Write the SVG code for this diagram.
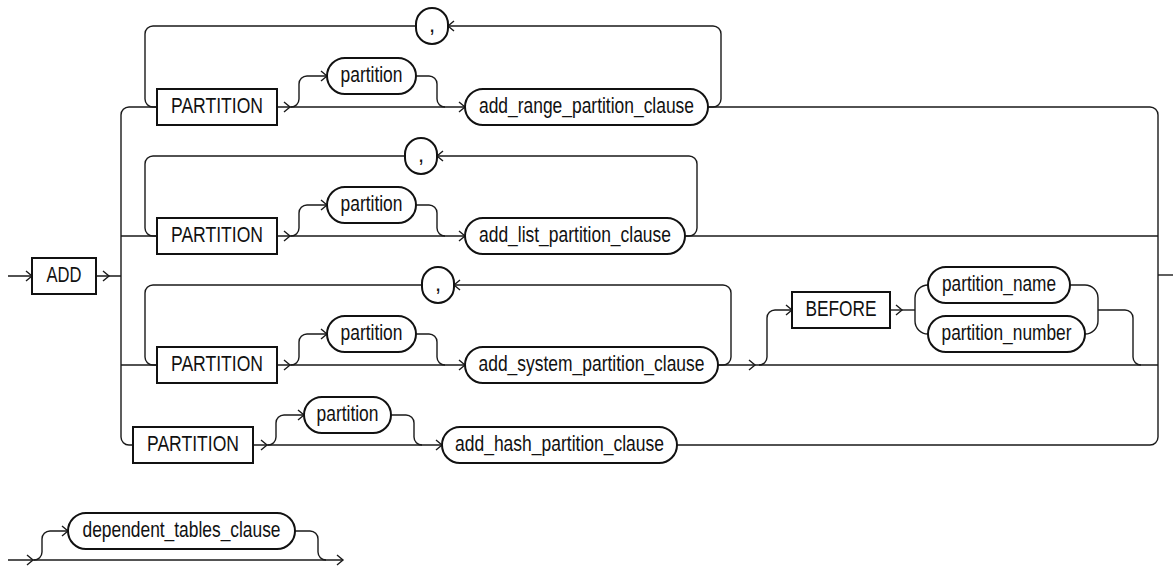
<svg xmlns="http://www.w3.org/2000/svg" xmlns:xlink="http://www.w3.org/1999/xlink" width="1173" height="569" viewBox="0 0 1173 569">
<style>
.ln{fill:none;stroke:#1a1a1a;stroke-width:1.4}
.bx{fill:#fff;stroke:#111;stroke-width:2}
.t{font-family:"Liberation Sans",Arial,sans-serif;font-size:22px;fill:#111;text-anchor:middle}
</style>
<defs>
<path id="ar" d="M-6,-5 L0,0 L-6,5" fill="none" stroke="#1a1a1a" stroke-width="1.4"/>
<path id="al" d="M6,-5 L0,0 L6,5" fill="none" stroke="#1a1a1a" stroke-width="1.4"/>
</defs>
<rect width="1173" height="569" fill="#fff"/>
<g id="connectors">
<path class="ln" d="M8,276 L32,276 M96,276 L121,276"/>
<path class="ln" d="M129,107 A8 8 0 0 0 121,115 L121,437 A8 8 0 0 0 129,445 L133,445"/>
<!-- row 1 -->
<path class="ln" d="M129,107 L157,107 M277,107 L465,107"/>
<path class="ln" d="M416,26 L153,26 A8 8 0 0 0 145,34 L145,99 A8 8 0 0 0 153,107 L157,107"/>
<path class="ln" d="M708,107 L713,107 A8 8 0 0 0 721,99 L721,34 A8 8 0 0 0 713,26 L448,26"/>
<path class="ln" d="M291,107 A8 8 0 0 0 299,99 L299,84 A8 8 0 0 1 307,76 L327,76"/>
<path class="ln" d="M416,76 L429,76 A8 8 0 0 1 437,84 L437,99 A8 8 0 0 0 445,107"/>
<path class="ln" d="M708,107 L1150,107 A8 8 0 0 1 1158,115 L1158,437 A8 8 0 0 1 1150,445 L677,445"/>
<path class="ln" d="M1158,275 L1173,275"/>
<!-- row 2 -->
<path class="ln" d="M121,236 L157,236 M277,236 L465,236"/>
<path class="ln" d="M405,156 L153,156 A8 8 0 0 0 145,164 L145,228 A8 8 0 0 0 153,236 L157,236"/>
<path class="ln" d="M685,236 L689,236 A8 8 0 0 0 697,228 L697,164 A8 8 0 0 0 689,156 L437,156"/>
<path class="ln" d="M291,236 A8 8 0 0 0 299,228 L299,213 A8 8 0 0 1 307,205 L327,205"/>
<path class="ln" d="M416,205 L429,205 A8 8 0 0 1 437,213 L437,228 A8 8 0 0 0 445,236"/>
<path class="ln" d="M685,236 L1158,236"/>
<!-- row 3 -->
<path class="ln" d="M121,365 L157,365 M277,365 L465,365"/>
<path class="ln" d="M422,285 L153,285 A8 8 0 0 0 145,293 L145,357 A8 8 0 0 0 153,365 L157,365"/>
<path class="ln" d="M718,365 L723,365 A8 8 0 0 0 731,357 L731,293 A8 8 0 0 0 723,285 L454,285"/>
<path class="ln" d="M291,365 A8 8 0 0 0 299,357 L299,342 A8 8 0 0 1 307,334 L327,334"/>
<path class="ln" d="M416,334 L429,334 A8 8 0 0 1 437,342 L437,357 A8 8 0 0 0 445,365"/>
<path class="ln" d="M718,365 L1158,365"/>
<path class="ln" d="M759,365 A8 8 0 0 0 767,357 L767,318 A8 8 0 0 1 775,310 L792,310"/>
<path class="ln" d="M890,310 L915,310"/>
<path class="ln" d="M928,285 A13 13 0 0 0 915,298 L915,321 A13 13 0 0 0 928,334"/>
<path class="ln" d="M1070,285 L1085,285 A13 13 0 0 1 1098,298 L1098,321 A13 13 0 0 1 1085,334"/>
<path class="ln" d="M1098,310 L1125,310 A8 8 0 0 1 1133,318 L1133,357 A8 8 0 0 0 1141,365"/>
<!-- row 4 -->
<path class="ln" d="M253,445 L442,445"/>
<path class="ln" d="M268,445 A8 8 0 0 0 276,437 L276,423 A8 8 0 0 1 284,415 L304,415"/>
<path class="ln" d="M391,415 L406,415 A8 8 0 0 1 414,423 L414,437 A8 8 0 0 0 422,445"/>
<!-- bottom -->
<path class="ln" d="M8,560 L343,560"/>
<path class="ln" d="M34,560 A8 8 0 0 0 42,552 L42,539 A8 8 0 0 1 50,531 L68,531"/>
<path class="ln" d="M295,531 L310,531 A8 8 0 0 1 318,539 L318,552 A8 8 0 0 0 326,560"/>
<!-- arrowheads -->
<use xlink:href="#ar" x="32" y="276"/>
<use xlink:href="#ar" x="109" y="276"/>
<use xlink:href="#ar" x="290" y="107"/>
<use xlink:href="#ar" x="327" y="76"/>
<use xlink:href="#ar" x="465" y="107"/>
<use xlink:href="#al" x="448" y="26"/>
<use xlink:href="#ar" x="290" y="236"/>
<use xlink:href="#ar" x="327" y="205"/>
<use xlink:href="#ar" x="465" y="236"/>
<use xlink:href="#al" x="437" y="156"/>
<use xlink:href="#ar" x="290" y="365"/>
<use xlink:href="#ar" x="327" y="334"/>
<use xlink:href="#ar" x="465" y="365"/>
<use xlink:href="#al" x="454" y="285"/>
<use xlink:href="#ar" x="755" y="365"/>
<use xlink:href="#ar" x="792" y="310"/>
<use xlink:href="#ar" x="902" y="310"/>
<use xlink:href="#ar" x="267" y="445"/>
<use xlink:href="#ar" x="304" y="415"/>
<use xlink:href="#ar" x="442" y="445"/>
<use xlink:href="#ar" x="33" y="560"/>
<use xlink:href="#ar" x="68" y="531"/>
<use xlink:href="#ar" x="343" y="560"/>
</g>
<g id="n-add"><rect class="bx" x="32" y="258" width="64" height="36"/><text class="t" x="64" y="282" textLength="35" lengthAdjust="spacingAndGlyphs">ADD</text></g>
<g id="n-comma1"><rect class="bx" x="416" y="8" width="32" height="36" rx="16"/><text class="t" x="432" y="32">,</text></g>
<g id="n-partition-kw1"><rect class="bx" x="157" y="89" width="120" height="36"/><text class="t" x="217" y="113" textLength="92" lengthAdjust="spacingAndGlyphs">PARTITION</text></g>
<g id="n-partition1"><rect class="bx" x="327" y="58" width="89" height="36" rx="18"/><text class="t" x="371.5" y="82" textLength="62" lengthAdjust="spacingAndGlyphs">partition</text></g>
<g id="n-range"><rect class="bx" x="465" y="89" width="243" height="36" rx="18"/><text class="t" x="586.5" y="113" textLength="215" lengthAdjust="spacingAndGlyphs">add_range_partition_clause</text></g>
<g id="n-comma2"><rect class="bx" x="405" y="138" width="32" height="36" rx="16"/><text class="t" x="421" y="162">,</text></g>
<g id="n-partition-kw2"><rect class="bx" x="157" y="218" width="120" height="36"/><text class="t" x="217" y="242" textLength="92" lengthAdjust="spacingAndGlyphs">PARTITION</text></g>
<g id="n-partition2"><rect class="bx" x="327" y="187" width="89" height="36" rx="18"/><text class="t" x="371.5" y="211" textLength="62" lengthAdjust="spacingAndGlyphs">partition</text></g>
<g id="n-list"><rect class="bx" x="465" y="218" width="220" height="36" rx="18"/><text class="t" x="575" y="242" textLength="192" lengthAdjust="spacingAndGlyphs">add_list_partition_clause</text></g>
<g id="n-comma3"><rect class="bx" x="422" y="267" width="32" height="36" rx="16"/><text class="t" x="438" y="291">,</text></g>
<g id="n-partition-kw3"><rect class="bx" x="157" y="347" width="120" height="36"/><text class="t" x="217" y="371" textLength="92" lengthAdjust="spacingAndGlyphs">PARTITION</text></g>
<g id="n-partition3"><rect class="bx" x="327" y="316" width="89" height="36" rx="18"/><text class="t" x="371.5" y="340" textLength="62" lengthAdjust="spacingAndGlyphs">partition</text></g>
<g id="n-system"><rect class="bx" x="465" y="347" width="253" height="36" rx="18"/><text class="t" x="591.5" y="371" textLength="226" lengthAdjust="spacingAndGlyphs">add_system_partition_clause</text></g>
<g id="n-before"><rect class="bx" x="792" y="292" width="98" height="36"/><text class="t" x="841" y="316" textLength="71" lengthAdjust="spacingAndGlyphs">BEFORE</text></g>
<g id="n-pname"><rect class="bx" x="928" y="267" width="142" height="36" rx="18"/><text class="t" x="999" y="291" textLength="114" lengthAdjust="spacingAndGlyphs">partition_name</text></g>
<g id="n-pnumber"><rect class="bx" x="928" y="316" width="157" height="36" rx="18"/><text class="t" x="1006.5" y="340" textLength="130" lengthAdjust="spacingAndGlyphs">partition_number</text></g>
<g id="n-partition-kw4"><rect class="bx" x="133" y="427" width="120" height="36"/><text class="t" x="193" y="451" textLength="92" lengthAdjust="spacingAndGlyphs">PARTITION</text></g>
<g id="n-partition4"><rect class="bx" x="304" y="397" width="87" height="36" rx="18"/><text class="t" x="347.5" y="421" textLength="62" lengthAdjust="spacingAndGlyphs">partition</text></g>
<g id="n-hash"><rect class="bx" x="442" y="427" width="235" height="36" rx="18"/><text class="t" x="559.5" y="451" textLength="209" lengthAdjust="spacingAndGlyphs">add_hash_partition_clause</text></g>
<g id="n-dependent"><rect class="bx" x="68" y="513" width="227" height="36" rx="18"/><text class="t" x="181.5" y="537" textLength="198" lengthAdjust="spacingAndGlyphs">dependent_tables_clause</text></g>
</svg>
